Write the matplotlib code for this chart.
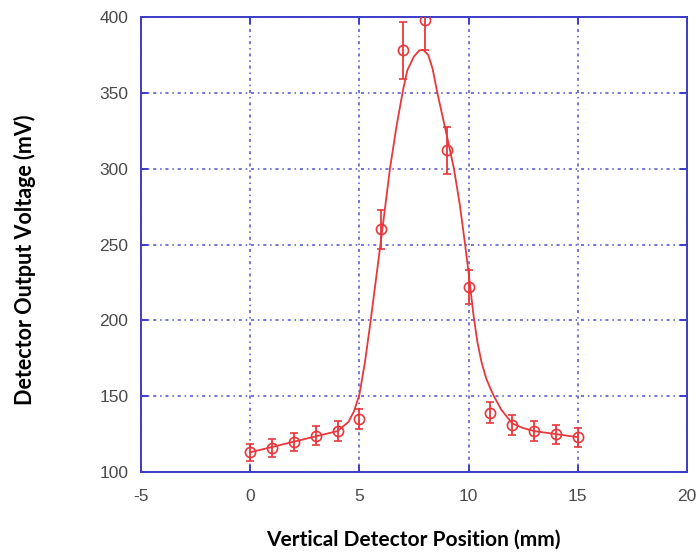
import numpy as np
import matplotlib
matplotlib.use("Agg")
import matplotlib.pyplot as plt

plt.rcParams["axes.unicode_minus"] = False

# measured points
pos = [0, 1, 2, 3, 4, 5, 6, 7, 8, 9, 10, 11, 12, 13, 14, 15]
volt = [113, 116, 120, 124, 127, 135, 260, 378, 398, 312, 222, 139, 131, 127, 125, 123]
err = [5.7, 5.8, 6.0, 6.2, 6.4, 6.8, 13.0, 18.9, 19.9, 15.6, 11.1, 7.0, 6.6, 6.4, 6.3, 6.2]

# fitted curve
fit_x = [0, 1, 2, 3, 4, 4.5, 4.75, 5, 5.25, 5.5, 5.75, 6, 6.4, 6.7, 7, 7.2, 7.5, 7.75,
         7.93, 8.15, 8.35, 8.57, 9, 9.33, 9.6, 9.84, 10.02, 10.22, 10.4, 10.6, 10.8,
         11.0, 11.16, 11.5, 12, 12.5, 13, 14, 15]
fit_y = [113, 116.5, 120, 123.5, 127, 133, 140, 151, 172, 198, 226, 254, 300, 328, 352, 365,
         374, 378, 378.3, 375, 366, 350, 322, 300, 276, 250, 229, 204, 186, 172, 162,
         155, 150, 141, 132, 129, 127, 125, 123]

blue = "#3c3cc8"
red = "#e8383c"

fig = plt.figure(figsize=(6.99, 5.55), dpi=100)
ax = fig.add_axes([0.2017, 0.1495, 0.7811, 0.8199])

ax.plot(fit_x, fit_y, color=red, lw=1.3, zorder=3)
ax.errorbar(pos, volt, yerr=err, fmt="o", mfc="none", mec=red, ms=7.3,
            mew=1.2, ecolor=red, elinewidth=1.3, capsize=3, capthick=1.3, zorder=4)

ax.set_xlim(-5, 20)
ax.set_ylim(100, 400)
ax.set_xticks([-5, 0, 5, 10, 15, 20])
ax.set_yticks([100, 150, 200, 250, 300, 350, 400])

ax.grid(True, color=blue, lw=1.1, linestyle=(0, (2, 2.5, 1, 2.5)), alpha=0.9)
for s in ax.spines.values():
    s.set_color(blue)
    s.set_linewidth(1.4)
ax.tick_params(direction="in", length=5, width=1.4, color=blue, top=True, right=True,
               labelsize=12.5, labelcolor="#4a4a4a")
ax.tick_params(axis="x", pad=12)
ax.tick_params(axis="y", pad=9)
for lab in ax.get_xticklabels() + ax.get_yticklabels():
    lab.set_family("Liberation Sans")

ax.set_xlabel("Vertical Detector Position (mm)", fontsize=15, fontweight="bold",
              family="Lato", va="center")
ax.set_ylabel("Detector Output Voltage (mV)", fontsize=15.5, fontweight="bold",
              family="Lato", va="center")
ax.xaxis.set_label_coords(0.498, -0.149)
ax.yaxis.set_label_coords(-0.2125, 0.466)

fig.savefig("out.png", dpi=100)
